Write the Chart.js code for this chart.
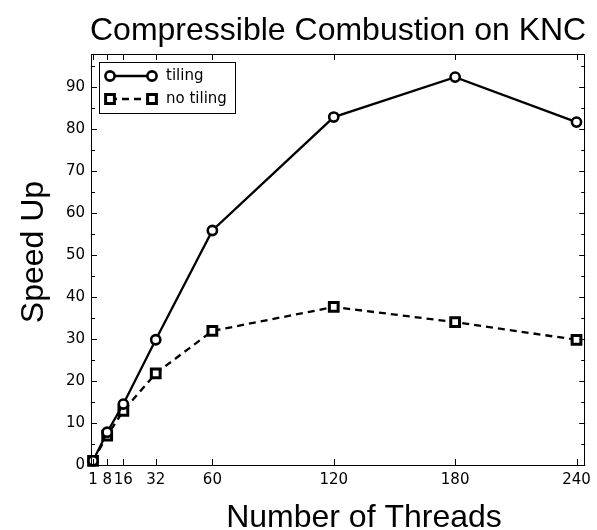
<!DOCTYPE html>
<html>
<head>
<meta charset="utf-8">
<script src="https://cdn.jsdelivr.net/npm/chart.js@4/dist/chart.umd.min.js"></script>
<style>
  html, body { margin: 0; padding: 0; background: #fff; }
  #wrap { width: 597px; height: 530px; }
</style>
</head>
<body>
<div id="wrap"><canvas id="c" width="597" height="530"></canvas></div>
<script>
// Thread counts and measured speed-ups
const threads = [1, 8, 16, 32, 60, 120, 180, 240];
const tiling = [1, 7.8, 14.5, 29.8, 55.8, 82.8, 92.3, 81.6];
const noTiling = [1, 7, 12.9, 21.8, 31.9, 37.6, 34, 29.8];
const xTickValues = [1, 8, 16, 32, 60, 120, 180, 240];
const yTickValues = [0, 10, 20, 30, 40, 50, 60, 70, 80, 90];
const yMinorValues = [5, 15, 25, 35, 45, 55, 65, 75, 85, 95];

const titleText = 'Compressible Combustion on KNC';
const xTitleText = 'Number of Threads';
const yTitleText = 'Speed Up';

const sansHead = '"Liberation Sans", Arial, Helvetica, sans-serif';
const sansTick = '"DejaVu Sans", sans-serif';

const seriesStyles = [
  { label: 'tiling', pointStyle: 'circle', pointRadius: 4.6, pointBorderWidth: 2.6, borderDash: [] },
  { label: 'no tiling', pointStyle: 'rect', pointRadius: 6.2, pointBorderWidth: 3, borderDash: [7, 5] }
];

function toPoints(xs, ys) {
  return xs.map((x, i) => ({ x: x, y: ys[i] }));
}

// Frame, inward ticks, titles and a boxed legend inside the plot
const decorations = {
  id: 'decorations',
  afterDraw(chart) {
    const ctx = chart.ctx;
    const a = chart.chartArea;
    const xs = chart.scales.x;
    const ys = chart.scales.y;
    ctx.save();

    // frame
    ctx.strokeStyle = '#000';
    ctx.lineWidth = 1;
    ctx.strokeRect(Math.round(a.left) + 0.5, Math.round(a.top) + 0.5,
                   Math.round(a.right - a.left) - 1, Math.round(a.bottom - a.top));

    // ticks pointing into the plot on all four sides
    const major = 6, minor = 4;
    ctx.beginPath();
    xTickValues.forEach(v => {
      const px = Math.round(xs.getPixelForValue(v)) + 0.5;
      ctx.moveTo(px, a.bottom); ctx.lineTo(px, a.bottom - major);
      ctx.moveTo(px, a.top); ctx.lineTo(px, a.top + major);
    });
    yTickValues.forEach(v => {
      const py = Math.round(ys.getPixelForValue(v)) + 0.5;
      ctx.moveTo(a.left, py); ctx.lineTo(a.left + major, py);
      ctx.moveTo(a.right, py); ctx.lineTo(a.right - major, py);
    });
    yMinorValues.forEach(v => {
      if (v > ys.max) return;
      const py = Math.round(ys.getPixelForValue(v)) + 0.5;
      ctx.moveTo(a.left, py); ctx.lineTo(a.left + minor, py);
      ctx.moveTo(a.right, py); ctx.lineTo(a.right - minor, py);
    });
    ctx.stroke();

    // titles
    ctx.fillStyle = '#000';
    ctx.font = '32px ' + sansHead;
    ctx.textAlign = 'center';
    ctx.textBaseline = 'alphabetic';
    ctx.fillText(titleText, (a.left + a.right) / 2, 40);
    ctx.fillText(xTitleText, 364, 527);
    ctx.save();
    ctx.translate(43, 252);
    ctx.rotate(-Math.PI / 2);
    ctx.fillText(yTitleText, 0, 0);
    ctx.restore();

    // legend
    const box = { x: 99.5, y: 62.5, w: 136, h: 51 };
    ctx.fillStyle = '#fff';
    ctx.fillRect(box.x, box.y, box.w, box.h);
    ctx.strokeStyle = '#000';
    ctx.lineWidth = 1;
    ctx.strokeRect(box.x, box.y, box.w, box.h);
    const rows = [76, 99];
    chart.data.datasets.forEach((ds, i) => {
      const y = rows[i];
      const x0 = 110, x1 = 152;
      ctx.strokeStyle = '#000';
      ctx.lineWidth = ds.borderWidth;
      ctx.setLineDash(ds.borderDash || []);
      ctx.beginPath();
      ctx.moveTo(x0, y); ctx.lineTo(x1, y);
      ctx.stroke();
      ctx.setLineDash([]);
      [x0, x1].forEach(x => {
        ctx.lineWidth = ds.pointBorderWidth;
        ctx.fillStyle = '#fff';
        ctx.beginPath();
        if (ds.pointStyle === 'circle') {
          ctx.arc(x, y, ds.pointRadius, 0, Math.PI * 2);
        } else {
          const s = Math.SQRT1_2 * ds.pointRadius;
          ctx.rect(x - s, y - s, 2 * s, 2 * s);
        }
        ctx.fill();
        ctx.stroke();
      });
      ctx.fillStyle = '#000';
      ctx.font = '15px ' + sansTick;
      ctx.textAlign = 'left';
      ctx.textBaseline = 'middle';
      ctx.fillText(ds.label, 166, y);
    });

    ctx.restore();
  }
};

new Chart(document.getElementById('c'), {
  type: 'line',
  data: {
    datasets: [
      Object.assign({ data: toPoints(threads, tiling) }, seriesStyles[0]),
      Object.assign({ data: toPoints(threads, noTiling) }, seriesStyles[1])
    ].map(ds => Object.assign(ds, {
      borderColor: '#000',
      borderWidth: 2.3,
      pointBackgroundColor: '#fff',
      pointBorderColor: '#000',
      fill: false,
      tension: 0,
      clip: false
    }))
  },
  options: {
    responsive: false,
    animation: false,
    devicePixelRatio: 1,
    layout: { padding: { left: 0, top: 54, right: 10, bottom: 0 } },
    plugins: {
      legend: { display: false },
      title: { display: false },
      tooltip: { enabled: false }
    },
    scales: {
      x: {
        type: 'linear',
        min: 0,
        max: 244.3,
        grid: { display: false, drawTicks: false },
        border: { display: false },
        afterBuildTicks(scale) {
          scale.ticks = xTickValues.map(v => ({ value: v }));
        },
        afterFit(scale) { scale.height = 65; },
        ticks: {
          autoSkip: false,
          maxRotation: 0,
          minRotation: 0,
          padding: 6,
          color: '#000',
          font: { family: sansTick, size: 15 },
          callback: v => String(v)
        }
      },
      y: {
        type: 'linear',
        min: 0,
        max: 97.8,
        grid: { display: false, drawTicks: false },
        border: { display: false },
        afterBuildTicks(scale) {
          scale.ticks = yTickValues.map(v => ({ value: v }));
        },
        afterFit(scale) { scale.width = 91; },
        ticks: {
          padding: 6,
          color: '#000',
          font: { family: sansTick, size: 15 },
          callback: v => String(v)
        }
      }
    }
  },
  plugins: [decorations]
});
</script>
</body>
</html>
